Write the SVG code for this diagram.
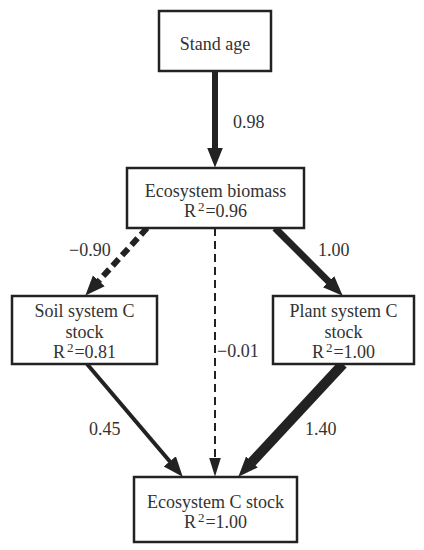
<svg xmlns="http://www.w3.org/2000/svg" width="424" height="550" viewBox="0 0 424 550">
<style>
.box{fill:#fff;stroke:#222;stroke-width:2.5}
.t{font-family:"Liberation Serif","Times New Roman",serif;font-size:18px;fill:#333;text-anchor:middle}
.lbl{font-family:"Liberation Serif","Times New Roman",serif;font-size:18px;fill:#333}
.sup{font-size:13px}
.c{stroke:#222;fill:none;stroke-linecap:butt}
</style>
<defs>
<marker id="ah" markerUnits="userSpaceOnUse" viewBox="0 -10 22 20" markerWidth="22" markerHeight="20" refX="0.5" refY="0" orient="auto">
<path d="M0,-8 L20,0 L0,8 z" fill="#222"/>
</marker>
<marker id="ahs" markerUnits="userSpaceOnUse" viewBox="0 -10 22 20" markerWidth="22" markerHeight="20" refX="0.5" refY="0" orient="auto">
<path d="M0,-6 L19,0 L0,6 z" fill="#222"/>
</marker>
</defs>
<rect width="424" height="550" fill="#fff"/>
<g id="connectors">
<line class="c" x1="215" y1="71" x2="215" y2="148" stroke-width="6" marker-end="url(#ah)"/>
<line class="c" x1="147" y1="228" x2="98.5" y2="281.2" stroke-width="6" stroke-dasharray="9 5" marker-end="url(#ah)"/>
<line class="c" x1="275" y1="228" x2="328.9" y2="281.9" stroke-width="7" marker-end="url(#ah)"/>
<line class="c" x1="215" y1="228" x2="215" y2="458" stroke-width="2" stroke-dasharray="8 5" marker-end="url(#ahs)"/>
<line class="c" x1="87" y1="364" x2="170.1" y2="461.8" stroke-width="4" marker-end="url(#ah)"/>
<line class="c" x1="343" y1="364" x2="251.6" y2="462.4" stroke-width="10" marker-end="url(#ah)"/>
<text class="lbl" x="233" y="128">0.98</text>
<text class="lbl" x="69" y="256">−0.90</text>
<text class="lbl" x="318" y="256">1.00</text>
<text class="lbl" x="217" y="357">−0.01</text>
<text class="lbl" x="89" y="435">0.45</text>
<text class="lbl" x="305" y="435">1.40</text>
</g>
<g id="stand-age">
<rect class="box" x="159" y="11" width="112" height="60"/>
<text class="t" x="215" y="50">Stand age</text>
</g>
<g id="ecosystem-biomass">
<rect class="box" x="127" y="168" width="177" height="60"/>
<text class="t" x="215.5" y="197">Ecosystem biomass</text>
<text class="t" x="215.5" y="217">R<tspan class="sup" dx="2" dy="-6">2</tspan><tspan dx="1" dy="6">=0.96</tspan></text>
</g>
<g id="soil-system">
<rect class="box" x="12" y="296" width="145" height="68"/>
<text class="t" x="84.5" y="317">Soil system C</text>
<text class="t" x="84.5" y="338">stock</text>
<text class="t" x="84.5" y="358">R<tspan class="sup" dx="2" dy="-6">2</tspan><tspan dx="1" dy="6">=0.81</tspan></text>
</g>
<g id="plant-system">
<rect class="box" x="273" y="296" width="141" height="68"/>
<text class="t" x="343.5" y="317">Plant system C</text>
<text class="t" x="343.5" y="338">stock</text>
<text class="t" x="343.5" y="358">R<tspan class="sup" dx="2" dy="-6">2</tspan><tspan dx="1" dy="6">=1.00</tspan></text>
</g>
<g id="ecosystem-c-stock">
<rect class="box" x="134" y="477" width="163" height="65"/>
<text class="t" x="215.5" y="508">Ecosystem C stock</text>
<text class="t" x="215.5" y="528">R<tspan class="sup" dx="2" dy="-6">2</tspan><tspan dx="1" dy="6">=1.00</tspan></text>
</g>
</svg>
